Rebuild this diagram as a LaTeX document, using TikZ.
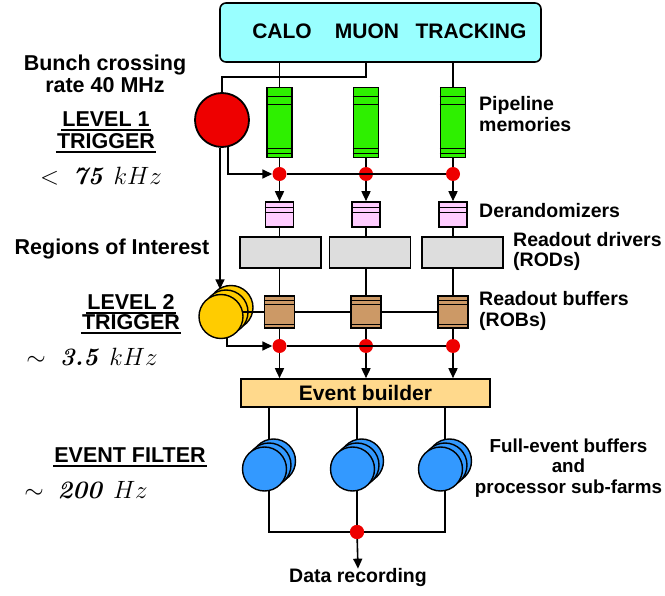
\RequirePackage{fix-cm}
\documentclass[tikz,border=0pt]{standalone}
\usepackage[no-math]{fontspec}
\setmainfont{Liberation Sans}
\newfontfamily\lmfam{Latin Modern Roman}
\usetikzlibrary{arrows.meta,calc}

\definecolor{sysblue}{HTML}{99FFFF}
\definecolor{pipegreen}{HTML}{2EF000}
\definecolor{derpink}{HTML}{FFCCFF}
\definecolor{rodgray}{HTML}{DDDDDD}
\definecolor{robbrown}{HTML}{CC9966}
\definecolor{lvltwo}{HTML}{FFCC00}
\definecolor{evbuild}{HTML}{FFD98C}
\definecolor{farmblue}{HTML}{3399FF}
\definecolor{dotred}{HTML}{EE0000}

% slanted rate figures
\newcommand{\ratenum}[1]{\mbox{\lmfam\bfseries\itshape #1}}

\begin{document}
\begin{tikzpicture}[x=1pt,y=-1pt,
  every node/.style={inner sep=0pt},
  conn/.style={line width=1.6pt},
  arr/.style={conn,-{Triangle[length=10pt,width=9pt]}},
  lbl/.style={font=\fontsize{19.5}{20.5}\selectfont\bfseries},
  leftlbl/.style={font=\fontsize{21.5}{22}\selectfont\bfseries},
  head/.style={font=\fontsize{21}{24}\selectfont\bfseries},
  rate/.style={font=\fontsize{25}{28}\selectfont},
  boxed/.style={draw,line width=1.6pt},
  pipebox/.style={boxed,fill=pipegreen,minimum width=25pt,minimum height=70pt},
  derbox/.style={boxed,fill=derpink,minimum width=28pt,minimum height=25pt},
  rodbox/.style={boxed,fill=rodgray,minimum width=81pt,minimum height=31pt},
  robbox/.style={boxed,fill=robbrown,minimum width=30pt,minimum height=32pt},
  dot/.style={circle,fill=dotred,minimum size=14pt},
  disc/.style={circle,draw,line width=1.4pt,minimum size=44pt},
  ulined/.style={line width=1.4pt}]
\useasboundingbox (0,0) rectangle (665,596);

% detector systems
\node[draw,line width=1.6pt,fill=sysblue,rounded corners=6pt,
      minimum width=321pt,minimum height=59pt] (sys) at (380.5,32.5) {};
\node[head] (calo) at (282,31) {CALO};
\node[head] (muon) at (367,31) {MUON};
\node[head] (trk) at (471,31) {TRACKING};

% pipeline memories
\foreach \i/\x in {1/279.5,2/366,3/453}{
  \node[pipebox] (p\i) at (\x,122.5) {};
  \draw[line width=1.2pt] ($(p\i.north west)+(0,10)$) -- ($(p\i.north east)+(0,10)$);
  \draw[line width=1.2pt] ($(p\i.north west)+(0,18)$) -- ($(p\i.north east)+(0,18)$);
  \draw[line width=1.2pt] ($(p\i.south west)+(0,-10)$) -- ($(p\i.south east)+(0,-10)$);
  \draw[line width=1.2pt] ($(p\i.south west)+(0,-5)$) -- ($(p\i.south east)+(0,-5)$);
}

% level 1 trigger
\node[circle,draw,line width=1.8pt,fill=dotred,minimum size=54pt] (l1) at (222,120) {};
\coordinate (mj) at (366,77);
\draw[conn] (p1 |- sys.south) -- (p1.north);
\draw[conn] (p3 |- sys.south) -- (p3.north);
\draw[conn] (p2 |- sys.south) -- (mj) -- (mj -| l1) -- (l1.north);

% level 1 accept dots
\foreach \i in {1,2,3}{
  \node[dot] (d\i) at (p\i |- 0,174) {};
}
\draw[conn] (d1) -- (d3);
\draw[arr] (l1.-77) |- (d1.west);

% derandomizers, readout drivers, readout buffers
\foreach \i/\rx in {1/280.5,2/370,3/462.5}{
  \node[derbox] (k\i) at (p\i |- 0,214.5) {};
  \draw[line width=1.2pt] ($(k\i.north west)+(0,6)$) -- ($(k\i.north east)+(0,6)$);
  \draw[line width=1.2pt] ($(k\i.north west)+(0,11)$) -- ($(k\i.north east)+(0,11)$);
  \node[rodbox] (r\i) at (\rx,252.5) {};
}

% level 2 trigger (stacked processors)
\node[disc,fill=lvltwo] (l2c) at (231,307.5) {};
\node[disc,fill=lvltwo] (l2b) at (226,312) {};
\draw[conn] (l2b.center) -- (p3 |- l2b.center);
\node[disc,fill=lvltwo] (l2a) at (221,316.5) {};
\draw[arr] ([xshift=-2pt]l1.south) -- ([xshift=-2pt]l1.south |- l2b.north);

\foreach \i in {1,2,3}{
  \node[robbox] (b\i) at (p\i |- 0,312) {};
  \draw[line width=1.2pt] ($(b\i.north west)+(0,5)$) -- ($(b\i.north east)+(0,5)$);
  \draw[line width=1.2pt] ($(b\i.north west)+(0,9)$) -- ($(b\i.north east)+(0,9)$);
  \draw[line width=1.2pt] ($(b\i.south west)+(0,-4)$) -- ($(b\i.south east)+(0,-4)$);
  \node[dot] (e\i) at (p\i |- 0,346) {};
}

% event builder
\node[boxed,fill=evbuild,minimum width=249pt,minimum height=28pt,
      font=\fontsize{21}{22}\selectfont\bfseries] (eb) at (365.5,393) {Event builder};

% vertical data paths
\foreach \i in {1,2,3}{
  \draw[conn] (p\i.south) -- (d\i);
  \draw[arr] (d\i) -- (k\i.north);
  \draw[conn] (k\i.south) -- (k\i.south |- r\i.north);
  \draw[conn] (b\i |- r\i.south) -- (b\i.north);
  \draw[conn] (b\i.south) -- (e\i);
  \draw[arr] (e\i) -- (e\i |- eb.north);
}
\draw[conn] (e1) -- (e3);
\draw[arr] (l2a.-74) |- (e1.west);

% event filter farms
\node[dot] (dr) at (357,532) {};
\foreach \i/\x in {1/269,2/357,3/445}{
  \coordinate (fc\i) at (\x,465);
  \draw[conn] (fc\i |- eb.south) -- (fc\i);
}
\draw[conn] (fc1) |- (dr) -| (fc3);
\draw[conn] (fc2) -- (dr);
\foreach \i in {1,2,3}{
  \node[disc,fill=farmblue] (f\i c) at ($(fc\i)+(4.5,-4)$) {};
  \node[disc,fill=farmblue] (f\i b) at (fc\i) {};
  \node[disc,fill=farmblue] (f\i a) at ($(fc\i)+(-4.5,4)$) {};
}
\node[dot] (dr2) at (dr) {};
\node[lbl] (rec) at (358,578) {Data recording};
\draw[arr] (dr) -- (rec.north);

% labels on the left
\node[leftlbl,align=center] (bx) at (105,74) {Bunch crossing\\rate 40 MHz};
\node[leftlbl] (lv1a) at (106,119) {LEVEL 1};
\node[leftlbl] (lv1b) at (106,141) {TRIGGER};
\node[rate] (r1) at (101,176) {$<\;\ratenum{75}\;\,kHz$};
\node[leftlbl] (roi) at (112,249) {Regions of Interest};
\node[leftlbl] (lv2a) at (131,302) {LEVEL 2};
\node[leftlbl] (lv2b) at (131,322) {TRIGGER};
\node[rate] (r2) at (92,357) {$\sim\;\ratenum{3.5}\;\,kHz$};
\node[leftlbl] (evf) at (130,455) {EVENT FILTER};
\node[rate] (r3) at (86,490) {$\sim\;\ratenum{200}\;\,Hz$};
\foreach \n in {lv1a,lv1b,lv2a,lv2b,evf}{
  \draw[ulined] ([shift={(-1pt,-3.5pt)}]\n.base west) -- ([shift={(1pt,-3.5pt)}]\n.base east);
}

% labels on the right
\node[lbl,align=left,anchor=west] (pipe) at (479,114) {Pipeline\\memories};
\node[lbl,anchor=west] (der) at (479,211) {Derandomizers};
\node[lbl,align=left,anchor=west] (rods) at (513,251.5) {Readout drivers\\(RODs)};
\node[lbl,align=left,anchor=west] (robs) at (479,311) {Readout buffers\\(ROBs)};
\node[lbl,align=center,font=\fontsize{18.8}{20.5}\selectfont\bfseries] (farm) at (568.5,468) {Full-event buffers\\and\\processor sub-farms};
\end{tikzpicture}
\end{document}
